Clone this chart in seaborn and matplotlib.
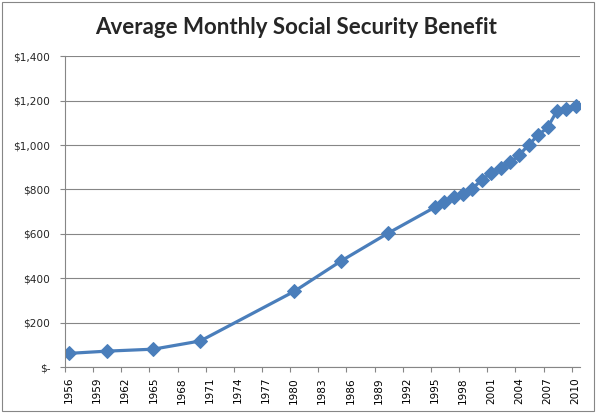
import pandas as pd
import seaborn as sns
import matplotlib.pyplot as plt
from matplotlib.patches import Rectangle
from matplotlib.ticker import FuncFormatter, FixedLocator

# Average monthly benefit (retired workers)
years = [1956, 1960, 1965, 1970, 1980, 1985, 1990, 1995, 1996, 1997, 1998,
         1999, 2000, 2001, 2002, 2003, 2004, 2005, 2006, 2007, 2008, 2009, 2010]
benefit = [62, 72, 81, 118, 341, 478, 603, 720, 745, 765, 780,
           804, 844, 874, 895, 922, 955, 1002, 1044, 1079, 1153, 1164, 1176]
tick_years = list(range(1956, 2011, 3))

df = pd.DataFrame({"year": years, "benefit": benefit})

sns.set_style("white")
plt.rcParams["font.family"] = ["DejaVu Sans"]

fig = plt.figure(figsize=(5.96, 4.13), dpi=100)
ax = fig.add_axes([0.109, 0.111, 0.864, 0.753])

sns.lineplot(data=df, x="year", y="benefit", ax=ax, color="#4A7EBB",
             linewidth=2.3, marker="D", markersize=6.8,
             markeredgecolor="#4A7EBB")

ax.set_xlim(1955.57, 2010.45)
ax.set_ylim(0, 1400)
ax.set_yticks(range(0, 1401, 200))
ax.yaxis.set_major_formatter(FuncFormatter(
    lambda v, p: "$-" if v == 0 else "${:,.0f}".format(v)))
ax.grid(axis="y", color="#868686", linewidth=0.8)
ax.set_axisbelow(True)

# labels centred on years, tick marks between year bins
ax.set_xticks(tick_years)
ax.set_xticklabels([str(y) for y in tick_years], rotation=90)
ax.xaxis.set_minor_locator(FixedLocator([y - 0.43 for y in tick_years]))
ax.tick_params(axis="x", which="major", length=0, pad=7, labelsize=7.6,
               colors="black")
ax.tick_params(axis="x", which="minor", length=3.6, width=0.8,
               color="#868686", bottom=True)
ax.tick_params(axis="y", length=3.6, width=0.8, color="#868686", pad=7,
               labelsize=7.6, left=True)

for side in ["top", "right"]:
    ax.spines[side].set_visible(False)
for side in ["left", "bottom"]:
    ax.spines[side].set_color("#868686")
    ax.spines[side].set_linewidth(0.8)

ax.set_xlabel("")
ax.set_ylabel("")

fig.text(0.4975, 0.933, "Average Monthly Social Security Benefit",
         ha="center", va="center", fontsize=16, fontweight="bold",
         family="Lato")

fig.patches.append(Rectangle((0.004, 0.004), 0.992, 0.992,
                             transform=fig.transFigure, fill=False,
                             edgecolor="#868686", linewidth=0.8))

fig.savefig("out.png", dpi=100)
